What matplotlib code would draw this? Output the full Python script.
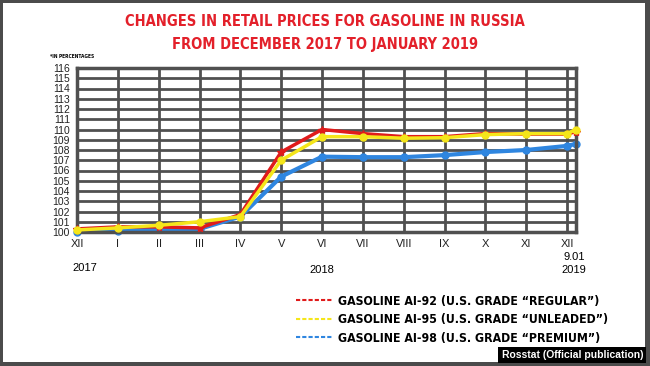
import matplotlib
matplotlib.use('agg')
import matplotlib.pyplot as plt
from matplotlib.lines import Line2D
from matplotlib.patches import Rectangle
from matplotlib.font_manager import FontProperties

# months Dec 2017 .. Dec 2018, plus 9 Jan 2019
months = ['XII', 'I', 'II', 'III', 'IV', 'V', 'VI', 'VII', 'VIII', 'IX', 'X', 'XI', 'XII']
x_pos = [0, 1, 2, 3, 4, 5, 6, 7, 8, 9, 10, 11, 12, 12.22]

ai92 = [100.3, 100.5, 100.5, 100.4, 101.7, 107.8, 110.0, 109.6, 109.3, 109.3, 109.6, 109.55, 109.55, 109.8]
ai95 = [100.2, 100.4, 100.65, 101.0, 101.5, 107.0, 109.3, 109.3, 109.15, 109.2, 109.5, 109.6, 109.6, 110.0]
ai98 = [100.0, 100.1, 100.3, 100.3, 101.5, 105.4, 107.35, 107.3, 107.3, 107.5, 107.8, 108.0, 108.4, 108.6]

labels = ['GASOLINE AI-92 (U.S. GRADE \u201cREGULAR\u201d)',
          'GASOLINE AI-95 (U.S. GRADE \u201cUNLEADED\u201d)',
          'GASOLINE AI-98 (U.S. GRADE \u201cPREMIUM\u201d)']
colors = ['#e01b1b', '#f5e61a', '#2f86e0']

plain = 'Liberation Sans'
narrow = FontProperties(family='DejaVu Sans', stretch='condensed', weight='bold')

fig = plt.figure(figsize=(6.5, 3.66), dpi=100)
fig.patch.set_facecolor('#4b4b4b')
fig.patches.append(Rectangle((3 / 650, 4 / 366), 642 / 650, 359 / 366,
                             transform=fig.transFigure, facecolor='white',
                             edgecolor='none', zorder=-5))

ax = fig.add_axes([77 / 650, 1 - 232 / 366, 499 / 650, 164 / 366])
ax.set_zorder(2)
ax.patch.set_alpha(0)
grid_c = '#505050'
ax.set_xlim(0, 12.22)
ax.set_ylim(100, 116)
ax.set_xticks(range(13))
ax.set_xticklabels(months)
ax.set_yticks(range(100, 117))
ax.grid(True, color=grid_c, linewidth=2)
ax.tick_params(length=0, labelsize=7.5, pad=5)
ax.tick_params(axis='x', pad=5, labelsize=8)
for lab in ax.get_xticklabels() + ax.get_yticklabels():
    lab.set_fontfamily(plain)
    lab.set_color('#222222')
for sp in ax.spines.values():
    sp.set_color(grid_c)
    sp.set_linewidth(2.5)
ax.set_axisbelow(True)

ax.plot(x_pos, ai92, color=colors[0], lw=2.5, marker='*', ms=6, zorder=3, clip_on=False)
ax.plot(x_pos, ai95, color=colors[1], lw=2.5, marker='o', ms=5, zorder=4, clip_on=False)
ax.plot(x_pos, ai98, color=colors[2], lw=3, marker='o', ms=5, zorder=2, clip_on=False)

title_fp = narrow.copy()
title_fp.set_size(10.5)
fig.text(0.5, 1 - 22 / 366, 'CHANGES IN RETAIL PRICES FOR GASOLINE IN RUSSIA',
         ha='center', va='center', color='#e3202a', fontproperties=title_fp)
fig.text(0.5, 1 - 45 / 366, 'FROM DECEMBER 2017 TO JANUARY 2019',
         ha='center', va='center', color='#e3202a', fontproperties=title_fp)
small_fp = narrow.copy()
small_fp.set_size(3.5)
fig.text(50 / 650, 1 - 57 / 366, '*IN PERCENTAGES', ha='left', va='center',
         fontproperties=small_fp)

fig.text(85 / 650, 1 - 268 / 366, '2017', ha='center', va='center', fontsize=8, family=plain)
fig.text(322 / 650, 1 - 270 / 366, '2018', ha='center', va='center', fontsize=8, family=plain)
fig.text(574 / 650, 1 - 257 / 366, '9.01', ha='center', va='center', fontsize=8, family=plain)
fig.text(574 / 650, 1 - 270 / 366, '2019', ha='center', va='center', fontsize=8, family=plain)

leg_fp = narrow.copy()
leg_fp.set_size(8.8)
handles = [Line2D([], [], color=c, lw=1.5, ls=(0, (2, 1))) for c in colors]
leg = fig.legend(handles, labels, loc='upper left', bbox_to_anchor=(287 / 650, 1 - 286 / 366),
                 frameon=False, handlelength=3.0, handletextpad=0.5, labelspacing=0.45,
                 borderpad=0.2, prop=leg_fp)

fig.text(643 / 650, 1 - 355 / 366, 'Rosstat (Official publication)', ha='right', va='center',
         fontsize=7.5, fontweight='bold', color='white', family=plain, zorder=5,
         bbox=dict(facecolor='black', edgecolor='none', pad=2.5))

fig.savefig('out.png', dpi=100, facecolor=fig.get_facecolor())
